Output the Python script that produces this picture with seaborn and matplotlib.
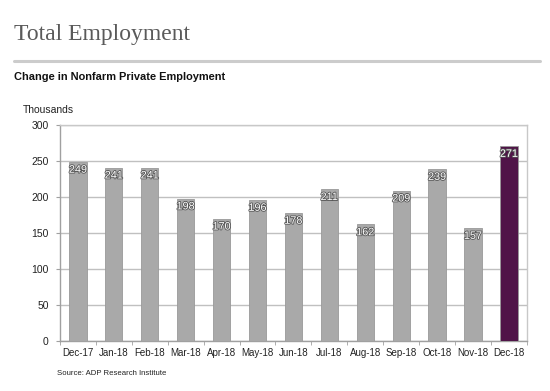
import numpy as np
import pandas as pd
import matplotlib.pyplot as plt
import matplotlib.patheffects as pe
import seaborn as sns

# DATA
months = ["Dec-17", "Jan-18", "Feb-18", "Mar-18", "Apr-18", "May-18", "Jun-18",
          "Jul-18", "Aug-18", "Sep-18", "Oct-18", "Nov-18", "Dec-18"]
jobs = [249, 241, 241, 198, 170, 196, 178, 211, 162, 209, 239, 157, 271]
y_ticks = [0, 50, 100, 150, 200, 250, 300]

GREY = "#a9a9a9"
PURPLE = "#5a0a4f"

df = pd.DataFrame({"month": months, "jobs": jobs})
bar_colors = [GREY] * (len(months) - 1) + [PURPLE]

sns.set_style("white")
plt.rcParams["font.family"] = ["Liberation Sans", "DejaVu Sans"]

fig = plt.figure(figsize=(5.5, 3.91), dpi=100)
ax = fig.add_axes([0.109, 0.128, 0.849, 0.552])

sns.barplot(data=df, x="month", y="jobs", hue="month", palette=bar_colors,
            legend=False, width=0.48, ax=ax, zorder=3,
            edgecolor="#999999", linewidth=0.6)

# value labels inside top of bars
for i, v in enumerate(jobs):
    ax.text(i, v - 4, str(v), ha="center", va="top", fontsize=7.8,
            color="white", zorder=4,
            path_effects=[pe.withStroke(linewidth=1.2, foreground="#555555")])

ax.set_ylim(0, 300)
ax.set_xlim(-0.5, len(months) - 0.5)
ax.set_yticks(y_ticks)
ax.yaxis.grid(True, color="#c0c0c0", linewidth=1.0, zorder=0)
ax.set_xlabel("")
ax.set_ylabel("")

for s in ax.spines.values():
    s.set_color("#c8c8c8")
    s.set_linewidth(1.0)
ax.spines["left"].set_color("#a0a0a0")
ax.spines["bottom"].set_color("#a0a0a0")

ax.tick_params(axis="y", labelsize=7.5, length=3, color="#a0a0a0",
               left=True, pad=5, labelcolor="#222222")
ax.set_xticks(np.arange(len(months)))
ax.set_xticklabels(months)
ax.tick_params(axis="x", labelsize=7, length=0, pad=5, labelcolor="#222222")
# tick marks between categories
ax.set_xticks(np.arange(-0.5, len(months)), minor=True)
ax.tick_params(axis="x", which="minor", length=3, color="#a0a0a0", bottom=True)

# headings
fig.text(0.025, 0.897, "Total Employment", fontsize=17,
         family=["Liberation Serif", "DejaVu Serif"], color="#5a5a5a",
         va="baseline")
fig.add_artist(plt.Line2D([0.025, 0.982], [0.843, 0.843],
                          color="#cccccc", linewidth=2.2))
fig.text(0.025, 0.795, "Change in Nonfarm Private Employment", fontsize=7.9,
         fontweight="bold", color="#111111", va="baseline")
fig.text(0.042, 0.712, "Thousands", fontsize=7.5, color="#222222",
         va="baseline")
fig.text(0.104, 0.04, "Source: ADP Research Institute", fontsize=5.6,
         color="#222222", va="baseline")

plt.savefig("out.png", dpi=100)
